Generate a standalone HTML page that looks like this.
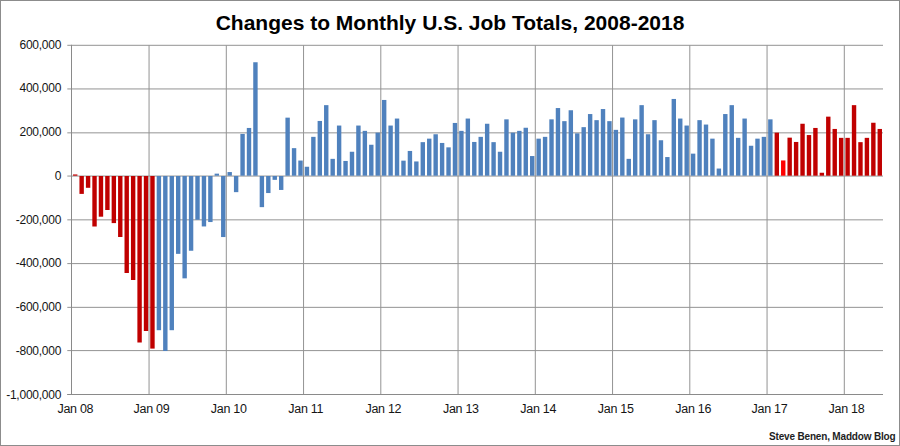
<!DOCTYPE html>
<html><head><meta charset="utf-8"><title>Changes to Monthly U.S. Job Totals, 2008-2018</title>
<style>
html,body{margin:0;padding:0;background:#fff;}
body{width:900px;height:446px;overflow:hidden;position:relative;}
.frame{position:absolute;left:0;top:0;width:898px;height:444px;border:1px solid #8c8c8c;}
svg{position:absolute;left:0;top:0;}
.g{stroke:#939393;stroke-width:1;}
.a{stroke:#8a8a8a;stroke-width:1;}
text{font-family:"Liberation Sans",Arial,sans-serif;fill:#151515;}
.yl{font-size:12px;text-anchor:end;letter-spacing:-0.25px;}
.xl{font-size:12.5px;letter-spacing:-0.3px;}
.title{font-size:21px;font-weight:bold;text-anchor:middle;fill:#000;}
.foot{font-size:10px;font-weight:bold;letter-spacing:-0.17px;fill:#1e1e1e;}
</style></head><body>
<div class="frame"></div>
<svg width="900" height="446" viewBox="0 0 900 446">
<text x="450" y="29.8" class="title">Changes to Monthly U.S. Job Totals, 2008-2018</text>
<g><line x1="67.3" y1="45.300" x2="883" y2="45.300" class="g"/>
<line x1="67.3" y1="88.950" x2="883" y2="88.950" class="g"/>
<line x1="67.3" y1="132.850" x2="883" y2="132.850" class="g"/>
<line x1="67.3" y1="176.050" x2="883" y2="176.050" class="g"/>
<line x1="67.3" y1="219.850" x2="883" y2="219.850" class="g"/>
<line x1="67.3" y1="263.600" x2="883" y2="263.600" class="g"/>
<line x1="67.3" y1="307.350" x2="883" y2="307.350" class="g"/>
<line x1="67.3" y1="350.600" x2="883" y2="350.600" class="g"/>
<line x1="67.3" y1="394.500" x2="883" y2="394.500" class="g"/>
<line x1="149.050" y1="45.300" x2="149.050" y2="394.500" class="g"/>
<line x1="226.300" y1="45.300" x2="226.300" y2="394.500" class="g"/>
<line x1="303.550" y1="45.300" x2="303.550" y2="394.500" class="g"/>
<line x1="380.800" y1="45.300" x2="380.800" y2="394.500" class="g"/>
<line x1="458.050" y1="45.300" x2="458.050" y2="394.500" class="g"/>
<line x1="535.300" y1="45.300" x2="535.300" y2="394.500" class="g"/>
<line x1="612.550" y1="45.300" x2="612.550" y2="394.500" class="g"/>
<line x1="689.800" y1="45.300" x2="689.800" y2="394.500" class="g"/>
<line x1="767.050" y1="45.300" x2="767.050" y2="394.500" class="g"/>
<line x1="844.300" y1="45.300" x2="844.300" y2="394.500" class="g"/>
<rect x="73.02" y="174.45" width="4.4" height="1.25" fill="#c00000"/>
<rect x="79.45" y="176.00" width="4.4" height="17.90" fill="#c00000"/>
<rect x="85.89" y="176.00" width="4.4" height="11.80" fill="#c00000"/>
<rect x="92.33" y="176.00" width="4.4" height="50.50" fill="#c00000"/>
<rect x="98.76" y="176.00" width="4.4" height="40.70" fill="#c00000"/>
<rect x="105.20" y="176.00" width="4.4" height="34.00" fill="#c00000"/>
<rect x="111.64" y="176.00" width="4.4" height="47.10" fill="#c00000"/>
<rect x="118.07" y="176.00" width="4.4" height="61.00" fill="#c00000"/>
<rect x="124.51" y="176.00" width="4.4" height="97.00" fill="#c00000"/>
<rect x="130.95" y="176.00" width="4.4" height="104.00" fill="#c00000"/>
<rect x="137.38" y="176.00" width="4.4" height="166.50" fill="#c00000"/>
<rect x="143.82" y="176.00" width="4.4" height="155.00" fill="#c00000"/>
<rect x="150.26" y="176.00" width="4.4" height="172.60" fill="#c00000"/>
<rect x="156.69" y="176.00" width="4.4" height="154.20" fill="#4f81bd"/>
<rect x="163.13" y="176.00" width="4.4" height="175.00" fill="#4f81bd"/>
<rect x="169.57" y="176.00" width="4.4" height="154.20" fill="#4f81bd"/>
<rect x="176.00" y="176.00" width="4.4" height="77.85" fill="#4f81bd"/>
<rect x="182.44" y="176.00" width="4.4" height="102.35" fill="#4f81bd"/>
<rect x="188.88" y="176.00" width="4.4" height="74.75" fill="#4f81bd"/>
<rect x="195.31" y="176.00" width="4.4" height="43.75" fill="#4f81bd"/>
<rect x="201.75" y="176.00" width="4.4" height="50.45" fill="#4f81bd"/>
<rect x="208.18" y="176.00" width="4.4" height="46.05" fill="#4f81bd"/>
<rect x="214.62" y="173.65" width="4.4" height="2.05" fill="#4f81bd"/>
<rect x="221.06" y="176.00" width="4.4" height="61.05" fill="#4f81bd"/>
<rect x="227.49" y="172.05" width="4.4" height="3.65" fill="#4f81bd"/>
<rect x="233.93" y="176.00" width="4.4" height="16.15" fill="#4f81bd"/>
<rect x="240.37" y="133.95" width="4.4" height="41.75" fill="#4f81bd"/>
<rect x="246.80" y="127.95" width="4.4" height="47.75" fill="#4f81bd"/>
<rect x="253.24" y="62.25" width="4.4" height="113.45" fill="#4f81bd"/>
<rect x="259.68" y="176.00" width="4.4" height="31.15" fill="#4f81bd"/>
<rect x="266.11" y="176.00" width="4.4" height="17.05" fill="#4f81bd"/>
<rect x="272.55" y="176.00" width="4.4" height="3.85" fill="#4f81bd"/>
<rect x="278.99" y="176.00" width="4.4" height="13.95" fill="#4f81bd"/>
<rect x="285.42" y="117.65" width="4.4" height="58.05" fill="#4f81bd"/>
<rect x="291.86" y="148.15" width="4.4" height="27.55" fill="#4f81bd"/>
<rect x="298.30" y="160.55" width="4.4" height="15.15" fill="#4f81bd"/>
<rect x="304.73" y="166.75" width="4.4" height="8.95" fill="#4f81bd"/>
<rect x="311.17" y="136.85" width="4.4" height="38.85" fill="#4f81bd"/>
<rect x="317.61" y="120.95" width="4.4" height="54.75" fill="#4f81bd"/>
<rect x="324.04" y="105.15" width="4.4" height="70.55" fill="#4f81bd"/>
<rect x="330.48" y="158.85" width="4.4" height="16.85" fill="#4f81bd"/>
<rect x="336.92" y="125.55" width="4.4" height="50.15" fill="#4f81bd"/>
<rect x="343.35" y="160.95" width="4.4" height="14.75" fill="#4f81bd"/>
<rect x="349.79" y="151.75" width="4.4" height="23.95" fill="#4f81bd"/>
<rect x="356.22" y="125.55" width="4.4" height="50.15" fill="#4f81bd"/>
<rect x="362.66" y="130.85" width="4.4" height="44.85" fill="#4f81bd"/>
<rect x="369.10" y="144.75" width="4.4" height="30.95" fill="#4f81bd"/>
<rect x="375.53" y="132.65" width="4.4" height="43.05" fill="#4f81bd"/>
<rect x="381.97" y="99.95" width="4.4" height="75.75" fill="#4f81bd"/>
<rect x="388.41" y="125.55" width="4.4" height="50.15" fill="#4f81bd"/>
<rect x="394.84" y="118.55" width="4.4" height="57.15" fill="#4f81bd"/>
<rect x="401.28" y="160.65" width="4.4" height="15.05" fill="#4f81bd"/>
<rect x="407.72" y="150.95" width="4.4" height="24.75" fill="#4f81bd"/>
<rect x="414.15" y="161.45" width="4.4" height="14.25" fill="#4f81bd"/>
<rect x="420.59" y="142.15" width="4.4" height="33.55" fill="#4f81bd"/>
<rect x="427.03" y="138.65" width="4.4" height="37.05" fill="#4f81bd"/>
<rect x="433.46" y="134.25" width="4.4" height="41.45" fill="#4f81bd"/>
<rect x="439.90" y="142.95" width="4.4" height="32.75" fill="#4f81bd"/>
<rect x="446.34" y="147.35" width="4.4" height="28.35" fill="#4f81bd"/>
<rect x="452.77" y="122.95" width="4.4" height="52.75" fill="#4f81bd"/>
<rect x="459.21" y="130.85" width="4.4" height="44.85" fill="#4f81bd"/>
<rect x="465.65" y="118.55" width="4.4" height="57.15" fill="#4f81bd"/>
<rect x="472.08" y="141.95" width="4.4" height="33.75" fill="#4f81bd"/>
<rect x="478.52" y="136.85" width="4.4" height="38.85" fill="#4f81bd"/>
<rect x="484.95" y="123.75" width="4.4" height="51.95" fill="#4f81bd"/>
<rect x="491.39" y="142.15" width="4.4" height="33.55" fill="#4f81bd"/>
<rect x="497.83" y="151.75" width="4.4" height="23.95" fill="#4f81bd"/>
<rect x="504.26" y="119.35" width="4.4" height="56.35" fill="#4f81bd"/>
<rect x="510.70" y="132.65" width="4.4" height="43.05" fill="#4f81bd"/>
<rect x="517.14" y="130.85" width="4.4" height="44.85" fill="#4f81bd"/>
<rect x="523.57" y="127.75" width="4.4" height="47.95" fill="#4f81bd"/>
<rect x="530.01" y="156.05" width="4.4" height="19.65" fill="#4f81bd"/>
<rect x="536.45" y="138.65" width="4.4" height="37.05" fill="#4f81bd"/>
<rect x="542.88" y="136.85" width="4.4" height="38.85" fill="#4f81bd"/>
<rect x="549.32" y="119.35" width="4.4" height="56.35" fill="#4f81bd"/>
<rect x="555.76" y="108.05" width="4.4" height="67.65" fill="#4f81bd"/>
<rect x="562.19" y="121.15" width="4.4" height="54.55" fill="#4f81bd"/>
<rect x="568.63" y="110.25" width="4.4" height="65.45" fill="#4f81bd"/>
<rect x="575.07" y="133.35" width="4.4" height="42.35" fill="#4f81bd"/>
<rect x="581.50" y="127.15" width="4.4" height="48.55" fill="#4f81bd"/>
<rect x="587.94" y="114.05" width="4.4" height="61.65" fill="#4f81bd"/>
<rect x="594.38" y="120.15" width="4.4" height="55.55" fill="#4f81bd"/>
<rect x="600.81" y="109.05" width="4.4" height="66.65" fill="#4f81bd"/>
<rect x="607.25" y="121.15" width="4.4" height="54.55" fill="#4f81bd"/>
<rect x="613.68" y="129.85" width="4.4" height="45.85" fill="#4f81bd"/>
<rect x="620.12" y="117.55" width="4.4" height="58.15" fill="#4f81bd"/>
<rect x="626.56" y="158.85" width="4.4" height="16.85" fill="#4f81bd"/>
<rect x="632.99" y="119.35" width="4.4" height="56.35" fill="#4f81bd"/>
<rect x="639.43" y="105.15" width="4.4" height="70.55" fill="#4f81bd"/>
<rect x="645.87" y="134.25" width="4.4" height="41.45" fill="#4f81bd"/>
<rect x="652.30" y="120.15" width="4.4" height="55.55" fill="#4f81bd"/>
<rect x="658.74" y="140.25" width="4.4" height="35.45" fill="#4f81bd"/>
<rect x="665.18" y="157.05" width="4.4" height="18.65" fill="#4f81bd"/>
<rect x="671.61" y="98.95" width="4.4" height="76.75" fill="#4f81bd"/>
<rect x="678.05" y="118.55" width="4.4" height="57.15" fill="#4f81bd"/>
<rect x="684.49" y="125.55" width="4.4" height="50.15" fill="#4f81bd"/>
<rect x="690.92" y="153.65" width="4.4" height="22.05" fill="#4f81bd"/>
<rect x="697.36" y="120.15" width="4.4" height="55.55" fill="#4f81bd"/>
<rect x="703.80" y="124.55" width="4.4" height="51.15" fill="#4f81bd"/>
<rect x="710.23" y="138.65" width="4.4" height="37.05" fill="#4f81bd"/>
<rect x="716.67" y="168.55" width="4.4" height="7.15" fill="#4f81bd"/>
<rect x="723.11" y="114.05" width="4.4" height="61.65" fill="#4f81bd"/>
<rect x="729.54" y="105.15" width="4.4" height="70.55" fill="#4f81bd"/>
<rect x="735.98" y="137.85" width="4.4" height="37.85" fill="#4f81bd"/>
<rect x="742.42" y="118.55" width="4.4" height="57.15" fill="#4f81bd"/>
<rect x="748.85" y="145.75" width="4.4" height="29.95" fill="#4f81bd"/>
<rect x="755.29" y="138.65" width="4.4" height="37.05" fill="#4f81bd"/>
<rect x="761.72" y="136.85" width="4.4" height="38.85" fill="#4f81bd"/>
<rect x="768.16" y="119.35" width="4.4" height="56.35" fill="#4f81bd"/>
<rect x="774.60" y="132.65" width="4.4" height="43.05" fill="#c00000"/>
<rect x="781.03" y="160.45" width="4.4" height="15.25" fill="#ff0000"/>
<rect x="787.47" y="137.65" width="4.4" height="38.05" fill="#c00000"/>
<rect x="793.91" y="141.95" width="4.4" height="33.75" fill="#c00000"/>
<rect x="800.34" y="123.75" width="4.4" height="51.95" fill="#c00000"/>
<rect x="806.78" y="135.05" width="4.4" height="40.65" fill="#c00000"/>
<rect x="813.22" y="127.95" width="4.4" height="47.75" fill="#c00000"/>
<rect x="819.65" y="172.75" width="4.4" height="2.95" fill="#c00000"/>
<rect x="826.09" y="116.65" width="4.4" height="59.05" fill="#c00000"/>
<rect x="832.53" y="128.95" width="4.4" height="46.75" fill="#c00000"/>
<rect x="838.96" y="137.85" width="4.4" height="37.85" fill="#c00000"/>
<rect x="845.40" y="137.85" width="4.4" height="37.85" fill="#c00000"/>
<rect x="851.84" y="105.15" width="4.4" height="70.55" fill="#c00000"/>
<rect x="858.27" y="142.15" width="4.4" height="33.55" fill="#c00000"/>
<rect x="864.71" y="137.85" width="4.4" height="37.85" fill="#c00000"/>
<rect x="871.15" y="122.75" width="4.4" height="52.95" fill="#c00000"/>
<rect x="877.58" y="128.95" width="4.4" height="46.75" fill="#c00000"/>
<line x1="71.5" y1="44.800" x2="71.5" y2="395.000" class="a"/>
<line x1="67.3" y1="394.500" x2="883" y2="394.500" class="a"/></g>
<text x="61.1" y="48.80" class="yl">600,000</text>
<text x="61.1" y="92.00" class="yl">400,000</text>
<text x="61.1" y="135.80" class="yl">200,000</text>
<text x="61.1" y="179.80" class="yl">0</text>
<text x="61.1" y="223.80" class="yl">-200,000</text>
<text x="61.1" y="266.70" class="yl">-400,000</text>
<text x="61.1" y="310.80" class="yl">-600,000</text>
<text x="61.1" y="354.80" class="yl">-800,000</text>
<text x="61.1" y="398.70" class="yl">-1,000,000</text>
<text x="57.50" y="413" class="xl">Jan 08</text>
<text x="133.60" y="413" class="xl">Jan 09</text>
<text x="210.80" y="413" class="xl">Jan 10</text>
<text x="288.30" y="413" class="xl">Jan 11</text>
<text x="365.50" y="413" class="xl">Jan 12</text>
<text x="443.00" y="413" class="xl">Jan 13</text>
<text x="520.30" y="413" class="xl">Jan 14</text>
<text x="597.80" y="413" class="xl">Jan 15</text>
<text x="675.30" y="413" class="xl">Jan 16</text>
<text x="751.60" y="413" class="xl">Jan 17</text>
<text x="828.60" y="413" class="xl">Jan 18</text>
<text x="769" y="440" class="foot">Steve Benen, Maddow Blog</text>
</svg>
</body></html>
